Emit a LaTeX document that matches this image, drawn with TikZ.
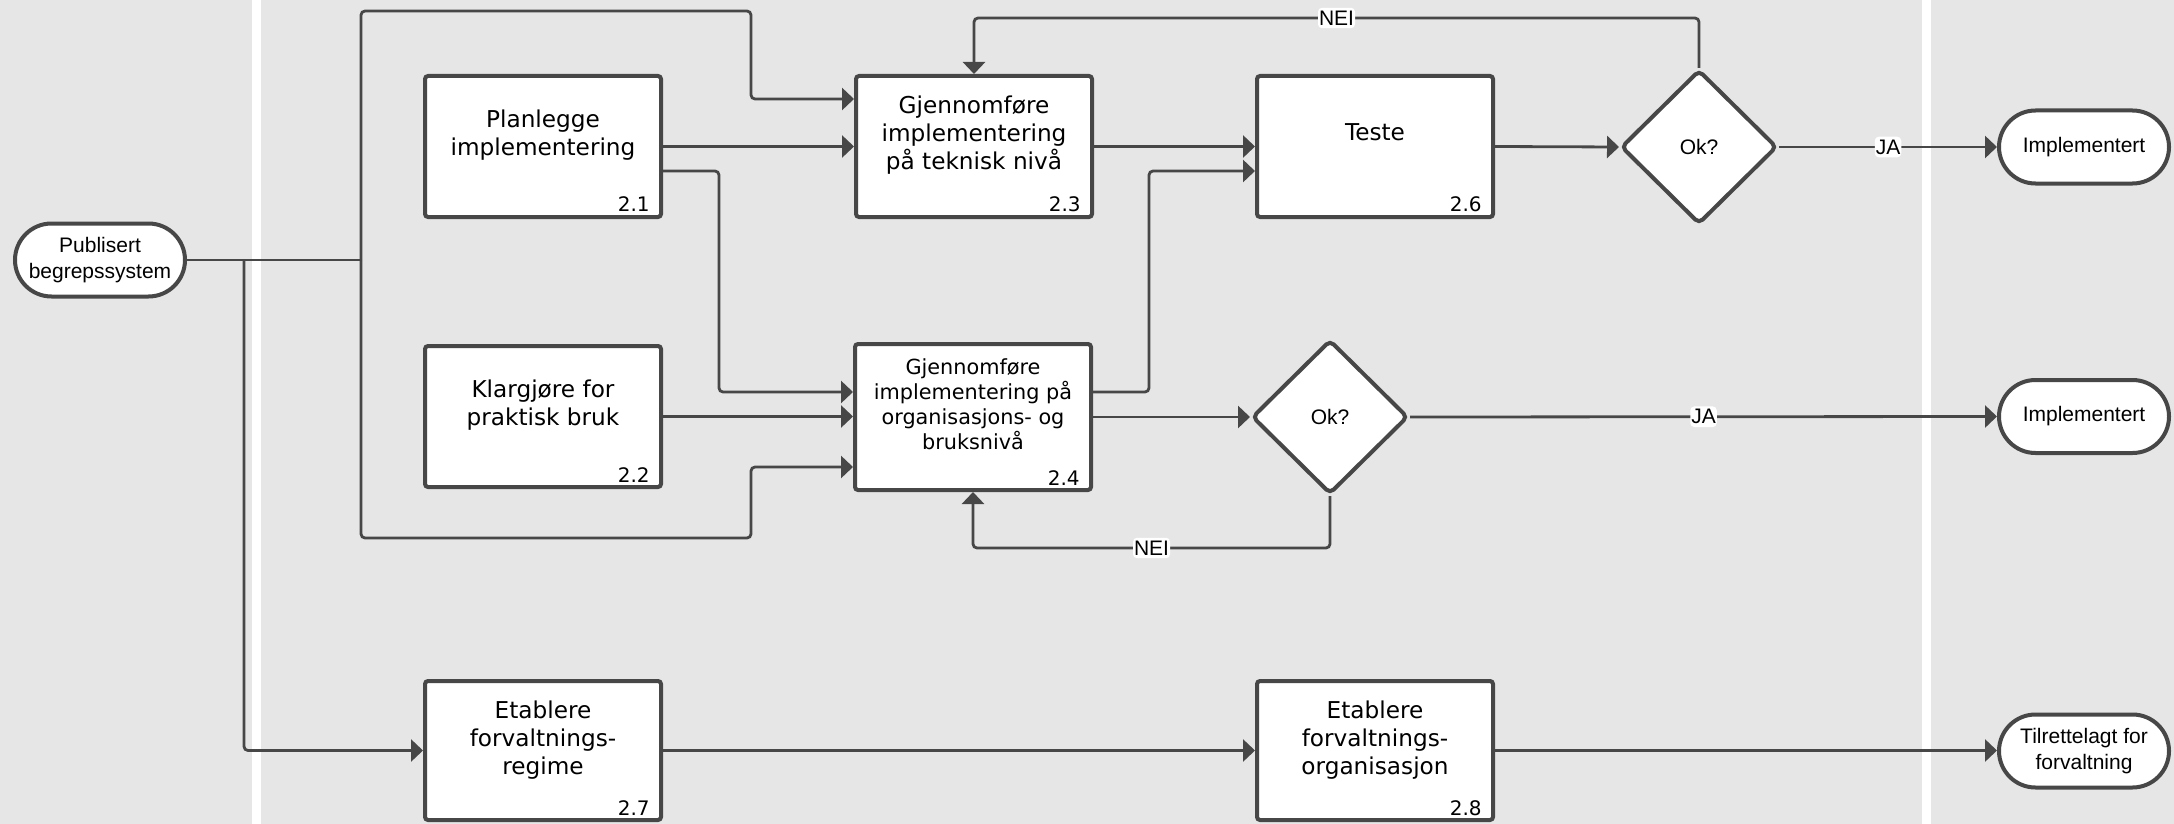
\documentclass[tikz,border=0pt]{standalone}
\usepackage{fontspec}
\newfontfamily\boxfont{DejaVu Sans}
\newfontfamily\termfont{Liberation Sans}
\usetikzlibrary{arrows.meta,shapes.geometric,shapes.misc}
\definecolor{lanebg}{HTML}{E6E6E6}
\definecolor{ink}{HTML}{474747}
\begin{document}
\begin{tikzpicture}[x=0.5pt,y=-0.5pt,
  proc/.style={draw=ink, fill=white, line width=2pt, rounded corners=1.5pt,
    minimum width=118pt, minimum height=70.5pt, inner sep=0pt},
  ptext/.style={align=center, inner sep=0pt, text=black,
    font=\boxfont\fontsize{11.6}{14}\selectfont},
  psmall/.style={align=center, inner sep=0pt, text=black,
    font=\boxfont\fontsize{10.4}{12.5}\selectfont},
  pnum/.style={anchor=base east, inner sep=0pt, text=black,
    font=\boxfont\fontsize{10}{12}\selectfont},
  term/.style={rounded rectangle, draw=ink, fill=white, line width=2pt,
    minimum width=85pt, minimum height=36.5pt, inner sep=0pt, align=center,
    text=black, font=\termfont\fontsize{10.5}{13}\selectfont},
  decision/.style={diamond, aspect=1, draw=ink, fill=white, line width=2pt,
    rounded corners=2.5pt, minimum width=78pt, minimum height=77pt, inner sep=0pt,
    text=black, font=\termfont\fontsize{10.5}{13}\selectfont},
  conn/.style={draw=ink, line width=1.4pt, rounded corners=2pt},
  arr/.style={conn, -{Triangle[length=6pt,width=11pt]}},
  lbl/.style={fill=white, inner xsep=0.5pt, inner ysep=1.5pt, text=black,
    font=\termfont\fontsize{10.5}{12}\selectfont}
]
\useasboundingbox (0,0) rectangle (2174,824);
\fill[white] (0,0) rectangle (2174,824);
\fill[lanebg] (0,0) rectangle (252,824);
\fill[lanebg] (261,0) rectangle (1922,824);
\fill[lanebg] (1931,0) rectangle (2174,824);

% process boxes
\node[proc] (b21) at (543,146.5) {};
\node[ptext] (t21) at ([yshift=5.75pt]b21.center) {Planlegge\\implementering};
\node[pnum] (n21) at ([xshift=-6.5pt,yshift=3.5pt]b21.south east) {2.1};

\node[proc] (b22) at (543,416.5) {};
\node[ptext] (t22) at ([yshift=5.75pt]b22.center) {Klargjøre for\\praktisk bruk};
\node[pnum] (n22) at ([xshift=-6.5pt,yshift=3.5pt]b22.south east) {2.2};

\node[proc] (b23) at (974,146.5) {};
\node[ptext] (t23) at ([yshift=5.75pt]b23.center) {Gjennomføre\\implementering\\på teknisk nivå};
\node[pnum] (n23) at ([xshift=-6.5pt,yshift=3.5pt]b23.south east) {2.3};

\node[proc] (b26) at (1375,146.5) {};
\node[ptext] (t26) at ([yshift=7pt]b26.center) {Teste};
\node[pnum] (n26) at ([xshift=-6.5pt,yshift=3.5pt]b26.south east) {2.6};

\node[proc, minimum height=73pt] (b24) at (973,417) {};
\node[psmall] (t24) at ([yshift=6.25pt]b24.center) {Gjennomføre\\implementering på\\organisasjons- og\\bruksnivå};
\node[pnum] (n24) at ([xshift=-6.5pt,yshift=3.5pt]b24.south east) {2.4};

\node[proc, minimum height=69.5pt] (b27) at (543,750.5) {};
\node[ptext] (t27) at ([yshift=5.25pt]b27.center) {Etablere\\forvaltnings-\\regime};
\node[pnum] (n27) at ([xshift=-6.5pt,yshift=3.5pt]b27.south east) {2.7};

\node[proc, minimum height=69.5pt] (b28) at (1375,750.5) {};
\node[ptext] (t28) at ([yshift=5.25pt]b28.center) {Etablere\\forvaltnings-\\organisasjon};
\node[pnum] (n28) at ([xshift=-6.5pt,yshift=3.5pt]b28.south east) {2.8};

% decisions
\node[decision] (d1) at (1699,147) {Ok?};
\node[decision] (d2) at (1330,417) {Ok?};

% terminals
\node[term] (pub) at (100,260) {Publisert\\begrepssystem};
\node[term] (imp1) at (2084,147) {Implementert};
\node[term] (imp2) at (2084,416.5) {Implementert};
\node[term] (tilr) at (2084,751) {Tilrettelagt for\\forvaltning};

% junctions
\coordinate (j0) at (244,260);
\coordinate (j1) at (361,260);

% connectors
\draw[conn] (pub.east) -- (j1);
\draw[arr] (j0) |- (b27.west);
\draw[arr] (j1) |- (751,11) |- ([yshift=23.75pt]b23.west);
\draw[arr] (j1) |- (751,538) |- ([yshift=-25pt]b24.west);
\draw[arr] (b21.east) -- (b23.west);
\draw[arr] ([yshift=-12.25pt]b21.east) -| (719,392) -- ([yshift=12.5pt]b24.west);
\draw[arr] (b22.east) -- (b22.east -| b24.west);
\draw[arr] (b23.east) -- (b26.west);
\draw[arr] ([yshift=12.5pt]b24.east) -| (1149,171) -- ([yshift=-12.25pt]b26.west);
\draw[arr] (b24.east) -- (d2.west);
\draw[arr] (b26.east) -- (d1.west);
\draw[arr] (d1.east) -- node[lbl] (ja1) {JA} (imp1.west);
\draw[arr] (d1.north) -- (1699,18) -- node[lbl] (nei1) {NEI} (974,18) -- (b23.north);
\draw[arr] (d2.east) -- node[lbl] (ja2) {JA} (imp2.west);
\draw[arr] (d2.south) -- (1330,548) -- node[lbl] (nei2) {NEI} (973,548) -- (b24.south);
\draw[arr] (b27.east) -- (b28.west);
\draw[arr] (b28.east) -- (b28.east -| tilr.west);
\end{tikzpicture}
\end{document}
